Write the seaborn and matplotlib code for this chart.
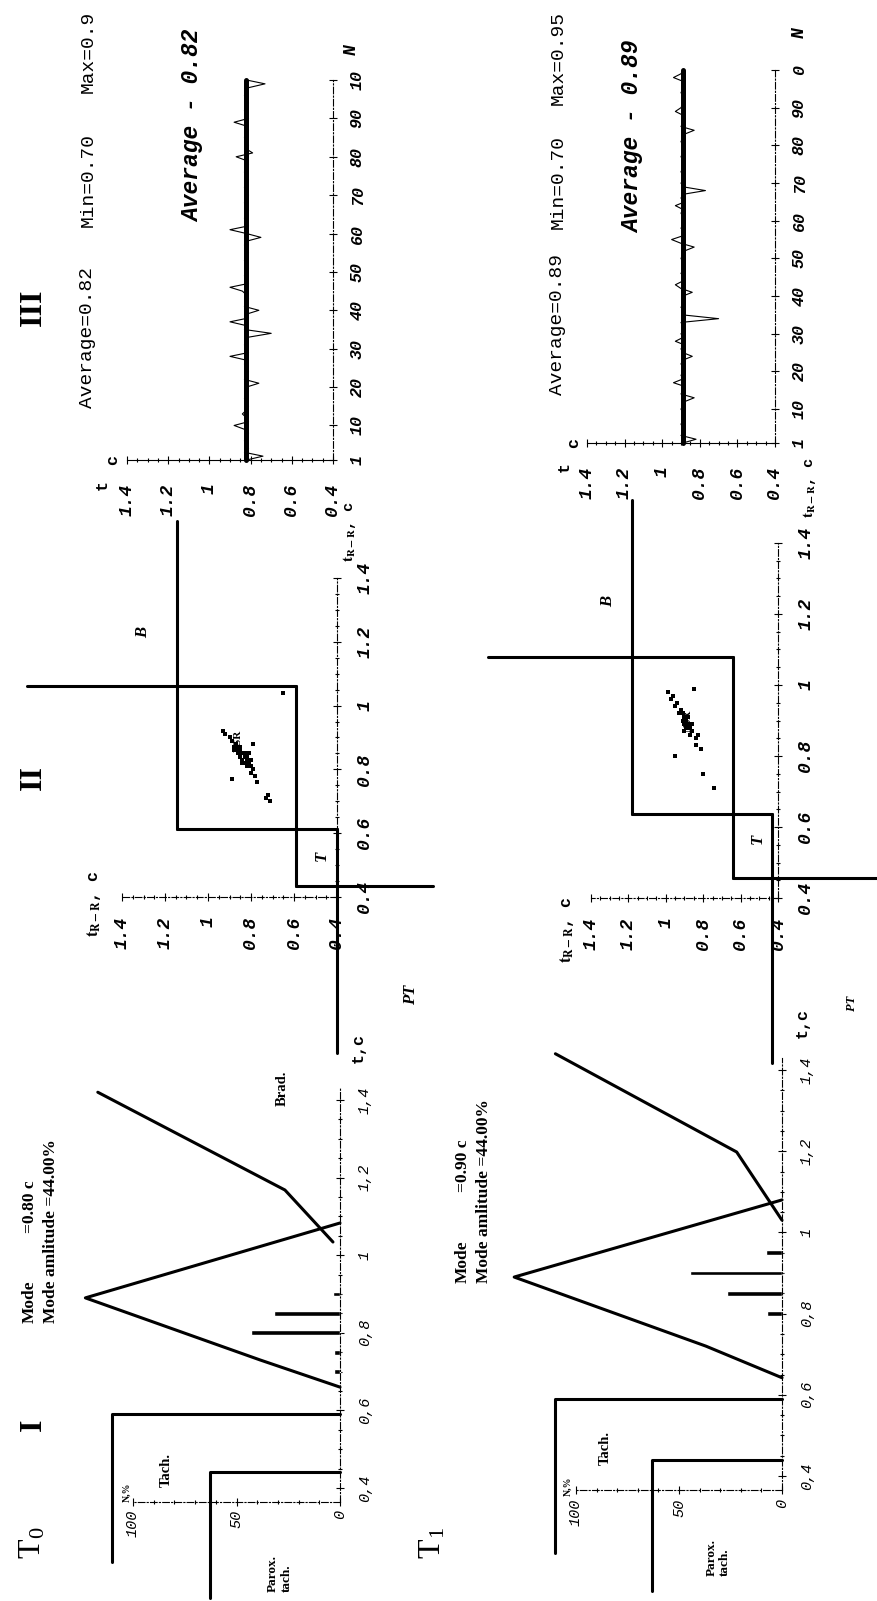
import pandas as pd
import seaborn as sns
import matplotlib.pyplot as plt

sns.set_style('white')
plt.rcParams['font.family'] = ['Liberation Serif', 'DejaVu Sans']
plt.rcParams['mathtext.fontset'] = 'stix'
for k in ('text.color', 'axes.labelcolor', 'xtick.color', 'ytick.color'):
    plt.rcParams[k] = 'black'

W, H = 877, 1601
MONO = 'Liberation Mono'
SERIF = 'Liberation Serif'

# ---------------- data ----------------
# I: histogram of R-R intervals (t, c) -> N, %
hist_t0_t = [0.70, 0.75, 0.80, 0.85, 0.90]
hist_t0_n = [3, 3, 43, 32, 3.2]
hist_t1_t = [0.80, 0.85, 0.90, 0.95]
hist_t1_n = [7.3, 26.7, 44.5, 8]

# triangle approximation of the histogram
tri_t0_t = [0.66, 0.73, 0.89, 1.083]
tri_t0_n = [0, 38.6, 123, 0]
tri_t1_t = [0.642, 0.72, 0.89, 1.08]
tri_t1_n = [0, 37, 130, 0]

# bradycardia limit line
brad_t0_t = [1.034, 1.168, 1.42]
brad_t0_n = [3.4, 26.6, 117]
brad_t1_t = [1.03, 1.198, 1.44]
brad_t1_n = [0, 22, 110]

# paroxysmal tachycardia / tachycardia limits
parox_t = [0.117, 0.44, 0.44]
parox_n = [63, 63, 0]
tach_t = [0.21, 0.59, 0.59]
tach_n = [110, 110, 0]

# II: scatter of t(n) vs t(n+1), zone borders as segments
zone_seg = [1, 1, 2, 2, 3, 3, 4, 4, 5, 5, 6, 6]
zone_t0_tn = [-0.09, 0.612, 0.436, 0.436, 0.612, 0.612, 0.436, 1.063, 1.063, 1.063, 0.612, 1.58]
zone_t0_tn1 = [0.4, 0.4, -0.046, 0.592, 0.4, 1.146, 0.592, 0.592, 0.592, 1.84, 1.146, 1.146]
zone_t1_tn = [-0.065, 0.636, 0.457, 0.457, 0.636, 0.636, 0.457, 1.08, 1.08, 1.08, 0.636, 1.52]
zone_t1_tn1 = [0.43, 0.43, -0.13, 0.643, 0.43, 1.18, 0.643, 0.643, 0.643, 1.95, 1.18, 1.18]

pts_t0_tn = [0.80, 0.81, 0.82, 0.82, 0.83, 0.83, 0.84, 0.84, 0.85, 0.85, 0.86, 0.86, 0.87, 0.87,
             0.88, 0.89, 0.90, 0.91, 0.83, 0.84, 0.85, 0.82, 0.81, 0.86, 0.87, 0.77, 0.88, 0.76,
             0.72, 0.71, 0.70, 1.04, 0.79, 0.78, 0.92, 0.85]
pts_t0_tn1 = [0.79, 0.80, 0.81, 0.83, 0.82, 0.84, 0.83, 0.85, 0.84, 0.86, 0.85, 0.87, 0.86, 0.88,
              0.87, 0.89, 0.90, 0.92, 0.80, 0.82, 0.83, 0.84, 0.82, 0.88, 0.85, 0.89, 0.79, 0.77,
              0.72, 0.73, 0.71, 0.65, 0.80, 0.78, 0.93, 0.81]
pts_t1_tn = [0.82, 0.83, 0.85, 0.86, 0.87, 0.88, 0.88, 0.89, 0.89, 0.90, 0.90, 0.91, 0.92, 0.93,
             0.94, 0.95, 0.96, 0.97, 0.98, 0.87, 0.91, 0.89, 0.92, 0.99, 0.80, 0.75, 0.71, 0.86]
pts_t1_tn1 = [0.81, 0.84, 0.84, 0.87, 0.86, 0.89, 0.87, 0.90, 0.88, 0.91, 0.89, 0.90, 0.93, 0.92,
              0.95, 0.94, 0.97, 0.96, 0.99, 0.90, 0.88, 0.86, 0.91, 0.85, 0.95, 0.80, 0.74, 0.83]

# III: rhythmogram, N = 1..100
beat_n = list(range(1, 101))
rr_t0 = [0.82, 0.74, 0.83, 0.81, 0.82, 0.83, 0.82, 0.81, 0.83, 0.88,
         0.81, 0.82, 0.84, 0.82, 0.81, 0.82, 0.83, 0.82, 0.81, 0.82,
         0.76, 0.83, 0.82, 0.81, 0.82, 0.83, 0.82, 0.90, 0.81, 0.82,
         0.83, 0.82, 0.81, 0.70, 0.83, 0.82, 0.90, 0.81, 0.82, 0.76,
         0.83, 0.82, 0.81, 0.82, 0.84, 0.90, 0.81, 0.82, 0.83, 0.82,
         0.81, 0.82, 0.83, 0.82, 0.81, 0.82, 0.83, 0.82, 0.75, 0.82,
         0.90, 0.81, 0.82, 0.83, 0.82, 0.81, 0.82, 0.83, 0.82, 0.81,
         0.82, 0.83, 0.82, 0.81, 0.82, 0.83, 0.82, 0.81, 0.82, 0.87,
         0.79, 0.82, 0.81, 0.82, 0.83, 0.82, 0.81, 0.82, 0.88, 0.81,
         0.82, 0.83, 0.82, 0.81, 0.82, 0.83, 0.82, 0.81, 0.73, 0.82]
rr_t1 = [0.89, 0.82, 0.90, 0.88, 0.89, 0.90, 0.89, 0.88, 0.89, 0.90,
         0.89, 0.88, 0.83, 0.90, 0.89, 0.88, 0.94, 0.89, 0.90, 0.88,
         0.89, 0.90, 0.89, 0.84, 0.89, 0.90, 0.88, 0.93, 0.89, 0.90,
         0.88, 0.89, 0.90, 0.70, 0.89, 0.88, 0.90, 0.89, 0.88, 0.89,
         0.84, 0.90, 0.93, 0.89, 0.88, 0.90, 0.89, 0.88, 0.89, 0.90,
         0.89, 0.88, 0.83, 0.90, 0.95, 0.89, 0.88, 0.90, 0.89, 0.88,
         0.89, 0.90, 0.89, 0.93, 0.88, 0.90, 0.89, 0.77, 0.89, 0.90,
         0.88, 0.89, 0.90, 0.89, 0.88, 0.89, 0.90, 0.89, 0.88, 0.89,
         0.90, 0.89, 0.88, 0.83, 0.90, 0.89, 0.88, 0.89, 0.93, 0.90,
         0.89, 0.88, 0.89, 0.90, 0.89, 0.88, 0.89, 0.94, 0.90, 0.89]
avg_t0, avg_t1 = 0.82, 0.89

t_ticks = [0.4, 0.6, 0.8, 1.0, 1.2, 1.4]
t_minor = [0.4, 0.45, 0.5, 0.55, 0.6, 0.65, 0.7, 0.75, 0.8, 0.85, 0.9, 0.95,
           1.0, 1.05, 1.1, 1.15, 1.2, 1.25, 1.3, 1.35, 1.4]
t_labels_dot = ['0.4', '0.6', '0.8', '1', '1.2', '1.4']
t_labels_comma = ['0,4', '0,6', '0,8', '1', '1,2', '1,4']
n_ticks = [1, 10, 20, 30, 40, 50, 60, 70, 80, 90, 100]
n_labels_t0 = ['1', '10', '20', '30', '40', '50', '60', '70', '80', '90', '10']
n_labels_t1 = ['1', '10', '20', '30', '40', '50', '60', '70', '80', '90', '0']

fig = plt.figure(figsize=(W / 100, H / 100), dpi=100)
fig.patch.set_facecolor('white')


def frame(box, xmap, ymap):
    # box in pixels (left, top, right, bottom); maps: ((pixel, value), (pixel, value))
    left, top, right, bottom = box
    (p0, a0), (p1, a1) = xmap
    kx = (a1 - a0) / (p1 - p0)
    (q0, b0), (q1, b1) = ymap
    ky = (b1 - b0) / (q1 - q0)
    ax = fig.add_axes([left / W, 1 - bottom / H, (right - left) / W, (bottom - top) / H])
    lims = ((a0 + (left - p0) * kx, a0 + (right - p0) * kx),
            (b0 + (bottom - q0) * ky, b0 + (top - q0) * ky))
    ax.patch.set_visible(False)
    ax.spines[['top', 'left']].set_visible(False)
    for s in ('right', 'bottom'):
        ax.spines[s].set_linestyle((0, (6, 2, 1, 2)))
        ax.spines[s].set_linewidth(0.8)
        ax.spines[s].set_color('black')
    ax.yaxis.tick_right()
    ax.xaxis.tick_bottom()
    ax.tick_params(which='both', direction='inout', color='black', width=0.8)
    ax.tick_params(which='major', length=6)
    ax.tick_params(which='minor', length=3)
    return ax, lims


def finish(ax, lims):
    ax.set_xlim(*lims[0])
    ax.set_ylim(*lims[1])
    ax.set_xlabel('')
    ax.set_ylabel('')
    ax.grid(False)


def line(ax, xs, ys, lw=2.2):
    sns.lineplot(x=xs, y=ys, sort=False, estimator=None, color='black',
                 linewidth=lw, ax=ax, clip_on=False)


def rtext(ax, x, y, s, **kw):
    kw.setdefault('va', 'center')
    ax.text(x, y, s, rotation=90, ha='center', clip_on=False, **kw)


# ---------------- panel I ----------------
def panel_hist(box, xmap, ymap, h_t, h_n, tr_t, tr_n, br_t, br_n, mode, mode_pos, labs):
    ax, lims = frame(box, xmap, ymap)
    sns.barplot(x=h_n, y=h_t, orient='y', native_scale=True, color='black',
                saturation=1, width=0.24, ax=ax)
    line(ax, tr_n, tr_t)
    line(ax, br_n, br_t)
    line(ax, parox_n, parox_t)
    line(ax, tach_n, tach_t)
    ax.spines['right'].set_position(('data', 0))
    ax.spines['right'].set_bounds(0.365, 1.43)
    ax.spines['bottom'].set_position(('data', 0.365))
    ax.spines['bottom'].set_bounds(0, 100)
    ax.set_yticks(t_ticks, t_labels_comma, rotation=90, family=MONO,
                  fontstyle='italic', fontsize=11)
    ax.set_yticks(t_minor, minor=True)
    ax.set_xticks([0, 50, 100], ['0', '50', '100'], rotation=90, family=MONO,
                  fontstyle='italic', fontsize=11)
    ax.set_xticks([10, 20, 30, 40, 60, 70, 80, 90], minor=True)
    ax.tick_params(axis='y', which='major', pad=10)
    ax.tick_params(axis='x', which='major', pad=3)
    for lab in ax.get_yticklabels():
        lab.set_va('center')
    (n1, t1), t2 = mode_pos
    ax.text(n1, t1, 'Mode', rotation=90, ha='center', va='bottom',
            fontsize=12.5, fontweight='bold', family=SERIF)
    ax.text(n1, t2, '=%.2f c' % mode, rotation=90, ha='center', va='bottom',
            fontsize=12.5, fontweight='bold', family=SERIF)
    ax.text(n1 - 10.5, t1, 'Mode amlitude =44.00%', rotation=90, ha='center',
            va='bottom', fontsize=12.5, fontweight='bold', family=SERIF)
    (tx, ty), (px, py), (cx, cy), (nx, ny) = labs
    rtext(ax, tx, ty, 'Tach.', fontsize=10.5, fontweight='bold', family=SERIF)
    rtext(ax, px, py, 'Parox.\ntach.', fontsize=9.5, fontweight='bold',
          family=SERIF, multialignment='left')
    rtext(ax, nx, ny, 'N,%', fontsize=7, fontweight='bold', family=SERIF)
    rtext(ax, cx, cy, 't,c', fontsize=12, fontweight='bold', family=MONO)
    finish(ax, lims)
    return ax


ax = panel_hist((0, 1000, 430, 1601), ((340, 0), (133, 100)), ((1488, 0.4), (1100, 1.4)),
                hist_t0_t, hist_t0_n, tri_t0_t, tri_t0_n, brad_t0_t, brad_t0_n,
                0.80, ((150, 0.825), 1.057),
                ((84, 0.446), (29, 0.18), (-9, 1.534), (103, 0.39)))
rtext(ax, 28, 1.43, 'Brad.', fontsize=10.5, fontweight='bold', family=SERIF)
panel_hist((430, 1000, 877, 1601), ((782, 0), (576, 100)), ((1476, 0.4), (1070, 1.4)),
           hist_t1_t, hist_t1_n, tri_t1_t, tri_t1_n, brad_t1_t, brad_t1_n,
           0.90, ((155, 0.875), 1.10),
           ((86, 0.47), (31, 0.2), (-10, 1.515), (104, 0.375)))


# ---------------- panel II ----------------
def panel_scatter(box, xmap, ymap, z_tn, z_tn1, p_tn, p_tn1, lab, pt_size):
    ax, lims = frame(box, xmap, ymap)
    zones = pd.DataFrame({'seg': zone_seg, 'tn': z_tn, 'tn1': z_tn1})
    sns.lineplot(data=zones, x='tn1', y='tn', units='seg', estimator=None, sort=False,
                 color='black', linewidth=2.2, ax=ax, clip_on=False)
    sns.scatterplot(x=p_tn1, y=p_tn, color='black', s=7, marker='s', linewidth=0, ax=ax)
    ax.spines['right'].set_position(('data', 0.4))
    ax.spines['right'].set_bounds(0.4, 1.4)
    ax.spines['bottom'].set_position(('data', 0.4))
    ax.spines['bottom'].set_bounds(0.4, 1.4)
    ax.set_yticks(t_ticks, t_labels_dot, rotation=90, family=MONO, fontstyle='italic',
                  fontsize=13, fontweight='bold')
    ax.set_yticks(t_minor, minor=True)
    ax.set_xticks(t_ticks, t_labels_dot, rotation=90, family=MONO, fontstyle='italic',
                  fontsize=13, fontweight='bold')
    ax.set_xticks(t_minor, minor=True)
    ax.tick_params(axis='both', which='major', pad=11)
    for lab_ in ax.get_yticklabels():
        lab_.set_va('center')
    (bx, by), (tx, ty), (px, py), (nx, ny), (ax1, ay1), (ax2, ay2) = lab
    rtext(ax, bx, by, 'B', fontsize=12, fontweight='bold', fontstyle='italic', family=SERIF)
    rtext(ax, tx, ty, 'T', fontsize=12, fontweight='bold', fontstyle='italic', family=SERIF)
    rtext(ax, px, py, 'PT', fontsize=pt_size, fontweight='bold', fontstyle='italic',
          family=SERIF)
    rtext(ax, nx, ny, 'NSR', fontsize=8, fontweight='bold', family=SERIF, zorder=1)
    rtext(ax, ax1, ay1, r'$\mathbf{t_{R-R}}$, c', fontsize=12, fontweight='bold', family=MONO)
    rtext(ax, ax2, ay2, r'$\mathbf{t_{R-R}}$, c', fontsize=11, fontweight='bold', family=MONO,
          va='bottom')
    finish(ax, lims)


panel_scatter((0, 440, 430, 1030), ((337, 0.4), (122, 1.4)), ((897, 0.4), (578, 1.4)),
              zone_t0_tn, zone_t0_tn1, pts_t0_tn, pts_t0_tn1,
              ((1.30, 1.23), (0.47, 0.53), (0.057, 0.093), (0.86, 0.89),
               (1.53, 0.38), (0.34, 1.45)), 12)
panel_scatter((430, 440, 877, 1030), ((778, 0.4), (591, 1.4)), ((898, 0.4), (543, 1.4)),
              zone_t1_tn, zone_t1_tn1, pts_t1_tn, pts_t1_tn1,
              ((1.31, 1.235), (0.51, 0.565), (0.004, 0.104), (0.88, 0.90),
               (1.53, 0.31), (0.23, 1.47)), 9)


# ---------------- panel III ----------------
def panel_rhythm(box, xmap, ymap, rr, avg, n_labels, nlab):
    ax, lims = frame(box, xmap, ymap)
    sns.lineplot(x=[avg, avg], y=[beat_n[0], beat_n[-1]], color='black',
                 linewidth=3.6, ax=ax, orient='y')
    sns.lineplot(x=rr, y=beat_n, sort=False, estimator=None, color='black',
                 linewidth=0.8, ax=ax, orient='y')
    ax.spines['right'].set_position(('data', 0.4))
    ax.spines['right'].set_bounds(1, 100)
    ax.spines['bottom'].set_position(('data', 1))
    ax.spines['bottom'].set_bounds(0.4, 1.4)
    ax.spines['bottom'].set_linestyle('-')
    ax.set_xticks(t_ticks, t_labels_dot, rotation=90, family=MONO, fontstyle='italic',
                  fontsize=13, fontweight='bold')
    ax.set_xticks(t_minor, minor=True)
    ax.set_yticks(n_ticks, n_labels, rotation=90, family=MONO, fontstyle='italic',
                  fontsize=12, fontweight='bold')
    ax.tick_params(axis='x', which='major', pad=14)
    ax.tick_params(axis='y', which='major', pad=9)
    for lab_ in ax.get_yticklabels():
        lab_.set_va('center')
    rtext(ax, 1.47, 1, 'c', fontsize=12, fontweight='bold', family=MONO)
    rtext(ax, 1.52, -5.5, 't', fontsize=12, fontweight='bold', family=MONO)
    rtext(ax, nlab[0], nlab[1], 'N', fontsize=13, fontweight='bold', fontstyle='italic',
          family=MONO)
    finish(ax, lims)


panel_rhythm((0, 0, 430, 560), ((333, 0.4), (127, 1.4)), ((460, 1), (80, 100)),
             rr_t0, avg_t0, n_labels_t0, (0.31, 108))
panel_rhythm((430, 0, 877, 560), ((775, 0.4), (587, 1.4)), ((443, 1), (70, 100)),
             rr_t1, avg_t1, n_labels_t1, (0.27, 110))


# ---------------- headers ----------------
def ftext(x, y, s, **kw):
    fig.text(x / W, 1 - y / H, s, rotation=90, ha='center', va='center', **kw)


ftext(88, 338, 'Average=0.82', family=MONO, fontsize=14)
ftext(88, 180, 'Min=0.70', family=MONO, fontsize=14)
ftext(88, 52, 'Max=0.9', family=MONO, fontsize=14)
ftext(193, 126, 'Average - 0.82', family=MONO, fontsize=16.5, fontstyle='italic',
      fontweight='bold')
ftext(558, 324, 'Average=0.89', family=MONO, fontsize=14)
ftext(558, 182, 'Min=0.70', family=MONO, fontsize=14)
ftext(558, 58, 'Max=0.95', family=MONO, fontsize=14)
ftext(633, 137, 'Average - 0.89', family=MONO, fontsize=16.5, fontstyle='italic',
      fontweight='bold')

ftext(33, 307, 'III', family=SERIF, fontsize=23, fontweight='bold')
ftext(33, 777, 'II', family=SERIF, fontsize=23, fontweight='bold')
ftext(33, 1425, 'I', family=SERIF, fontsize=23, fontweight='bold')
ftext(33, 1543, r'T$_\mathregular{0}$', family=SERIF, fontsize=23)
ftext(433, 1543, r'T$_\mathregular{1}$', family=SERIF, fontsize=23)

fig.savefig('out.png', dpi=100, facecolor='white')
